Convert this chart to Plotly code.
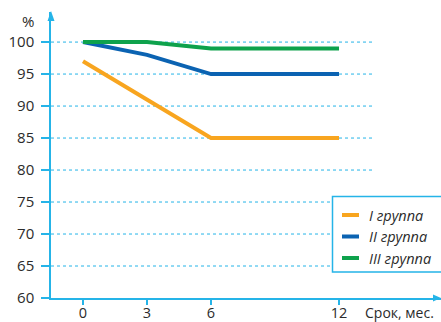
import plotly.graph_objects as go

# Follow-up months and share of patients (%) per group
months = [0, 3, 6, 12]
group_names = ["I группа", "II группа", "III группа"]
group_values = [
    [97, 91, 85, 85],
    [100, 98, 95, 95],
    [100, 100, 99, 99],
]
group_colors = ["#f8a51f", "#0b63b2", "#0ea24c"]

y_ticks = [60, 65, 70, 75, 80, 85, 90, 95, 100]
x_ticks = [0, 3, 6, 12]

AXIS = "#25b4e8"
TEXT = "#2b2b2b"
FONT = "Open Sans"

fig = go.Figure()
for name, vals, col in zip(group_names, group_values, group_colors):
    fig.add_trace(go.Scatter(
        x=months, y=vals, name=name, mode="lines",
        line=dict(color=col, width=4), showlegend=False,
    ))

x_min, x_max = -1.5, 16.78
y_min, y_max = 60, 104.7
grid_end = 13.55

shapes = []
# dotted horizontal guides (stop short of the right edge)
for v in y_ticks[1:]:
    shapes.append(dict(type="line", xref="x", yref="y", x0=x_min, x1=grid_end,
                       y0=v, y1=v, line=dict(color=AXIS, width=1, dash="dot"),
                       layer="below"))
# axis arrowheads
shapes.append(dict(type="path", xref="paper", yref="paper", xsizemode="pixel",
                   ysizemode="pixel", xanchor=0, yanchor=1,
                   path="M-3.5,-9 L3.5,-9 L0,1 Z", fillcolor=AXIS,
                   line=dict(color=AXIS, width=0)))
shapes.append(dict(type="path", xref="paper", yref="paper", xsizemode="pixel",
                   ysizemode="pixel", xanchor=1, yanchor=0,
                   path="M-8,-3.5 L-8,3.5 L0,0 Z", fillcolor=AXIS,
                   line=dict(color=AXIS, width=0)))

# legend box
plot_w, plot_h = 390, 286
def px_x(px):
    return (px - 51) / plot_w
def px_y(py):
    return (298 - py) / plot_h

shapes.append(dict(type="rect", xref="paper", yref="paper",
                   x0=px_x(332.5), x1=px_x(450), y0=px_y(272), y1=px_y(196.5),
                   line=dict(color=AXIS, width=1.5), fillcolor="white"))

annotations = []
entry_y = [215, 236.5, 258]
for name, col, ey in zip(group_names, group_colors, entry_y):
    shapes.append(dict(type="line", xref="paper", yref="paper",
                       x0=px_x(342), x1=px_x(359), y0=px_y(ey), y1=px_y(ey),
                       line=dict(color=col, width=4)))
    annotations.append(dict(xref="paper", yref="paper", x=px_x(367), y=px_y(ey),
                            text=name, showarrow=False, xanchor="left",
                            yanchor="middle",
                            font=dict(family=FONT, size=14.5, color=TEXT,
                                      style="italic")))

annotations.append(dict(xref="paper", yref="paper", x=px_x(28), y=px_y(21),
                        text="%", showarrow=False, xanchor="center",
                        yanchor="middle",
                        font=dict(family=FONT, size=15, color=TEXT)))
annotations.append(dict(xref="paper", yref="paper", x=px_x(364), y=px_y(312),
                        text="Срок, мес.", showarrow=False, xanchor="left",
                        yanchor="middle", borderpad=0,
                        font=dict(family=FONT, size=14, color=TEXT)))

fig.update_layout(
    width=441, height=322,
    margin=dict(l=51, r=0, t=12, b=24),
    plot_bgcolor="white", paper_bgcolor="white",
    font=dict(family=FONT, size=15, color=TEXT),
    shapes=shapes, annotations=annotations,
    xaxis=dict(range=[x_min, x_max], tickvals=x_ticks, showgrid=False,
               zeroline=False, showline=True, linecolor=AXIS, linewidth=1.5,
               ticks="outside", ticklen=5, tickcolor=AXIS, tickwidth=1.5,
               ticklabelstandoff=-4, automargin=False,
               tickfont=dict(size=14.5)),
    yaxis=dict(range=[y_min, y_max], tickvals=y_ticks, showgrid=False,
               zeroline=False, showline=True, linecolor=AXIS, linewidth=1.5,
               ticks="outside", ticklen=8, tickcolor=AXIS, tickwidth=1.5,
               ticklabelstandoff=4, automargin=False),
    showlegend=False,
)

fig.write_html("out.html")
